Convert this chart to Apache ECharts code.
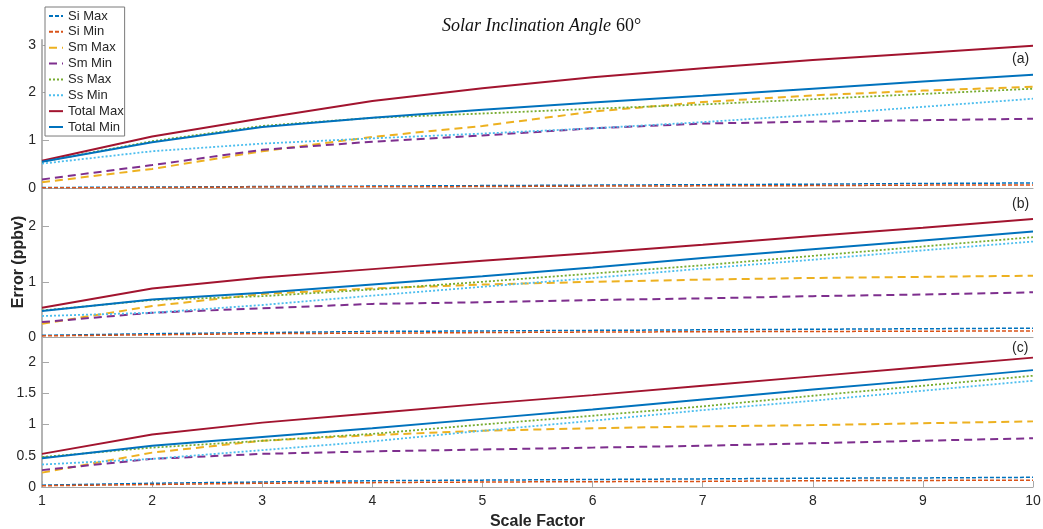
<!DOCTYPE html>
<html><head><meta charset="utf-8">
<script src="https://cdn.jsdelivr.net/npm/echarts@6/dist/echarts.min.js"></script>
<style>html,body{margin:0;padding:0;background:#fff}#c{width:1043px;height:529px}</style>
</head><body><div id="c"></div>
<script>
// ---- data ----
const scaleFactors = [1, 2, 3, 4, 5, 6, 7, 8, 9, 10];
const seriesNames = ['Si Max', 'Si Min', 'Sm Max', 'Sm Min', 'Ss Max', 'Ss Min', 'Total Max', 'Total Min'];
const panelLabels = ['(a)', '(b)', '(c)'];
const titleItalic = 'Solar Inclination Angle';
const titleUpright = '60°';
const xAxisTitle = 'Scale Factor';
const yAxisTitle = 'Error (ppbv)';

// panel (a)
const aSiMax    = [0.01, 0.02, 0.03, 0.04, 0.05, 0.06, 0.07, 0.08, 0.095, 0.105];
const aSiMin    = [0.005, 0.01, 0.02, 0.025, 0.03, 0.04, 0.045, 0.05, 0.06, 0.065];
const aSmMax    = [0.12, 0.40, 0.77, 1.07, 1.30, 1.60, 1.80, 1.94, 2.04, 2.12];
const aSmMin    = [0.18, 0.48, 0.80, 0.97, 1.10, 1.25, 1.35, 1.39, 1.42, 1.45];
const aSsMax    = [0.55, 0.98, 1.30, 1.47, 1.56, 1.66, 1.75, 1.86, 1.97, 2.08];
const aSsMin    = [0.51, 0.77, 0.93, 1.04, 1.14, 1.25, 1.38, 1.53, 1.70, 1.87];
const aTotalMax = [0.57, 1.08, 1.46, 1.82, 2.09, 2.32, 2.51, 2.68, 2.83, 2.98];
const aTotalMin = [0.55, 0.96, 1.28, 1.47, 1.64, 1.79, 1.93, 2.08, 2.23, 2.37];

// panel (b)
const bSiMax    = [0.03, 0.06, 0.08, 0.10, 0.11, 0.12, 0.13, 0.14, 0.15, 0.16];
const bSiMin    = [0.02, 0.04, 0.06, 0.07, 0.08, 0.09, 0.095, 0.10, 0.105, 0.11];
const bSmMax    = [0.24, 0.56, 0.78, 0.88, 0.95, 1.00, 1.04, 1.07, 1.09, 1.11];
const bSmMin    = [0.27, 0.44, 0.52, 0.60, 0.63, 0.67, 0.70, 0.74, 0.77, 0.81];
const bSsMax    = [0.48, 0.67, 0.74, 0.86, 1.00, 1.15, 1.30, 1.47, 1.64, 1.81];
const bSsMin    = [0.38, 0.44, 0.58, 0.75, 0.91, 1.07, 1.24, 1.40, 1.57, 1.73];
const bTotalMax = [0.53, 0.88, 1.08, 1.23, 1.38, 1.52, 1.67, 1.83, 1.98, 2.14];
const bTotalMin = [0.47, 0.68, 0.80, 0.95, 1.10, 1.26, 1.43, 1.59, 1.75, 1.91];

// panel (c)
const cSiMax    = [0.03, 0.06, 0.08, 0.10, 0.11, 0.12, 0.13, 0.14, 0.145, 0.155];
const cSiMin    = [0.02, 0.04, 0.06, 0.07, 0.08, 0.085, 0.09, 0.10, 0.105, 0.11];
const cSmMax    = [0.23, 0.55, 0.74, 0.83, 0.90, 0.94, 0.97, 0.99, 1.02, 1.05];
const cSmMin    = [0.27, 0.45, 0.53, 0.57, 0.60, 0.63, 0.66, 0.70, 0.74, 0.78];
const cSsMax    = [0.48, 0.63, 0.74, 0.85, 1.00, 1.14, 1.29, 1.46, 1.62, 1.78];
const cSsMin    = [0.36, 0.45, 0.59, 0.73, 0.90, 1.06, 1.23, 1.38, 1.54, 1.70];
const cTotalMax = [0.53, 0.84, 1.03, 1.18, 1.33, 1.47, 1.62, 1.77, 1.92, 2.07];
const cTotalMin = [0.46, 0.66, 0.80, 0.94, 1.09, 1.24, 1.40, 1.56, 1.71, 1.87];

// y-axis ranges and ticks per panel
const yMaxes = [3.1, 2.7, 2.4];
const yTicksA = [0, 1, 2, 3];
const yTicksB = [0, 1, 2];
const yTicksC = [0, 0.5, 1, 1.5, 2];

// ---- styling ----
const colors = ['#0072BD', '#D95319', '#EDB120', '#7E2F8E', '#77AC30', '#4DBEEE', '#A2142F', '#0072BD'];
const lineTypes = [[4, 2], [4, 2], [8, 5], [8, 5], [2, 2], [2, 2], 'solid', 'solid'];
const lineWidths = [1.5, 1.5, 2, 2, 1.8, 1.8, 2, 2];

const panels = [
  [aSiMax, aSiMin, aSmMax, aSmMin, aSsMax, aSsMin, aTotalMax, aTotalMin],
  [bSiMax, bSiMin, bSmMax, bSmMin, bSsMax, bSsMin, bTotalMax, bTotalMin],
  [cSiMax, cSiMin, cSmMax, cSmMin, cSsMax, cSsMin, cTotalMax, cTotalMin]
];
const yTicks = [yTicksA, yTicksB, yTicksC];

const grids = [
  {left: 42, right: 10, top: 40, height: 148, outerBoundsMode: 'none', containLabel: false},
  {left: 42, right: 10, top: 188, height: 149, outerBoundsMode: 'none', containLabel: false},
  {left: 42, right: 10, top: 337, height: 150, outerBoundsMode: 'none', containLabel: false}
];
const axisGray = '#a8a8a8';
const textColor = '#262626';
const sansFont = 'Liberation Sans, Arial, Helvetica, sans-serif';

const xAxes = grids.map((g, i) => ({
  type: 'value', gridIndex: i, min: 1, max: 10, interval: 1,
  axisLine: {show: true, lineStyle: {color: axisGray, width: 1.2}},
  axisTick: {show: i === 2, inside: true, length: 6, lineStyle: {color: axisGray, width: 1}},
  axisLabel: {show: i === 2, color: textColor, fontSize: 14, fontFamily: sansFont, margin: 7},
  splitLine: {show: false},
  name: i === 2 ? xAxisTitle : '',
  nameLocation: 'middle', nameGap: 27,
  nameTextStyle: {color: textColor, fontSize: 16, fontWeight: 'bold', fontFamily: sansFont}
}));

const yAxes = grids.map((g, i) => ({
  type: 'value', gridIndex: i, min: 0, max: yMaxes[i],
  axisLine: {show: true, onZero: false, lineStyle: {color: '#b4b4b4', width: 2}},
  axisTick: {show: true, inside: true, length: 7, customValues: yTicks[i], lineStyle: {color: axisGray, width: 1}},
  axisLabel: {show: true, color: textColor, fontSize: 14, fontFamily: sansFont, margin: 6, customValues: yTicks[i]},
  splitLine: {show: false}
}));

const series = [];
panels.forEach((vals, p) => {
  vals.forEach((arr, k) => {
    series.push({
      type: 'line', name: seriesNames[k], xAxisIndex: p, yAxisIndex: p,
      data: scaleFactors.map((x, j) => [x, arr[j]]),
      showSymbol: false, symbol: 'none', animation: false,
      lineStyle: {color: colors[k], width: lineWidths[k], type: lineTypes[k]},
      itemStyle: {color: colors[k]}
    });
  });
});

const chart = echarts.init(document.getElementById('c'), null, {renderer: 'canvas'});
chart.setOption({
  backgroundColor: '#fff',
  animation: false,
  title: {
    text: '{i|' + titleItalic + '} {n|' + titleUpright + '}',
    left: 437, top: 12,
    textStyle: {
      fontWeight: 'normal',
      rich: {
        i: {fontFamily: 'Liberation Serif, DejaVu Serif, serif', fontStyle: 'italic', fontWeight: 'normal', fontSize: 18, color: '#111'},
        n: {fontFamily: 'Liberation Serif, DejaVu Serif, serif', fontWeight: 'normal', fontSize: 18, color: '#111'}
      }
    }
  },
  legend: {
    data: seriesNames, orient: 'vertical', left: 45, top: 7,
    backgroundColor: '#fff', borderColor: '#7a7a7a', borderWidth: 1,
    padding: [2, 1, 2, 3], itemGap: 1.86, itemWidth: 14, itemHeight: 14,
    itemStyle: {opacity: 0, borderWidth: 0},
    textStyle: {color: textColor, fontSize: 13, fontFamily: sansFont, lineHeight: 14},
    z: 10
  },
  grid: grids,
  xAxis: xAxes,
  yAxis: yAxes,
  graphic: [
    {type: 'text', x: 19, y: 262, rotation: Math.PI / 2,
     style: {text: yAxisTitle, fill: textColor, font: 'bold 16px ' + sansFont, align: 'center', verticalAlign: 'middle'}},
    {type: 'text', left: 1012, top: 52, style: {text: panelLabels[0], fill: textColor, font: '14px ' + sansFont}},
    {type: 'text', left: 1012, top: 197, style: {text: panelLabels[1], fill: textColor, font: '14px ' + sansFont}},
    {type: 'text', left: 1012, top: 341, style: {text: panelLabels[2], fill: textColor, font: '14px ' + sansFont}}
  ],
  series: series
});
</script></body></html>
